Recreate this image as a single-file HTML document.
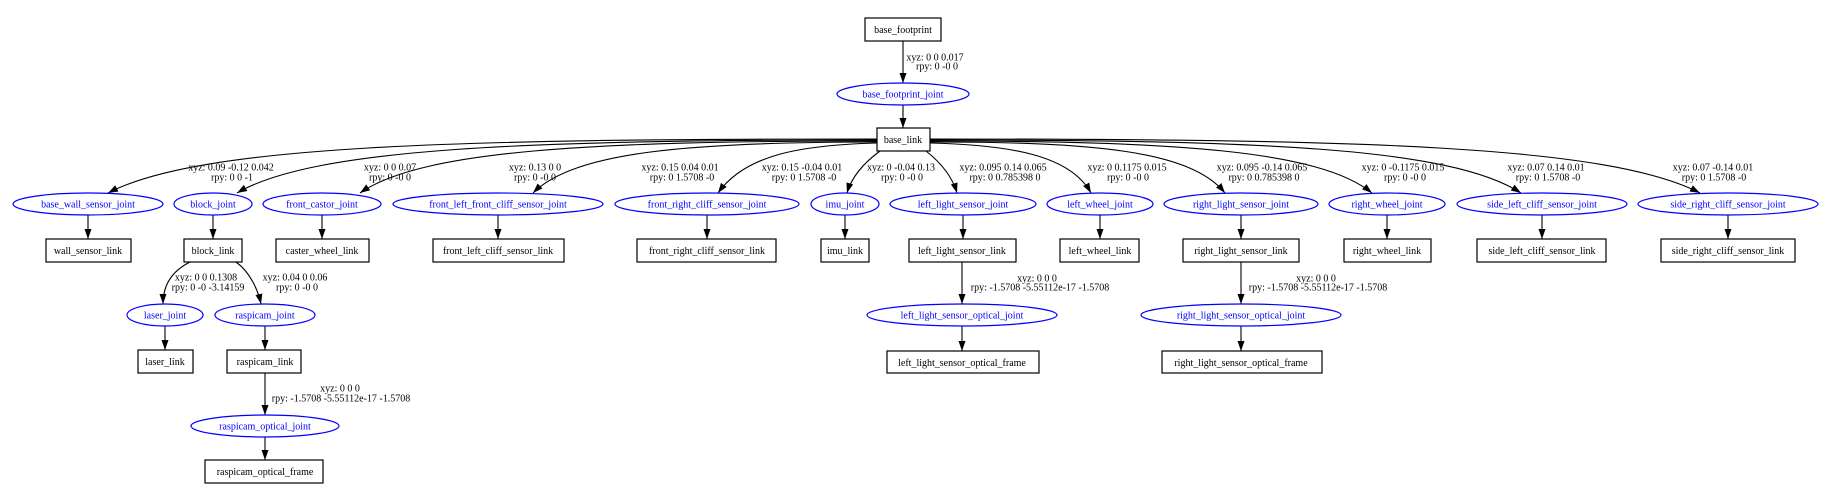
<!DOCTYPE html>
<html><head><meta charset="utf-8"><style>
html,body{margin:0;padding:0;background:#fff;}
svg{display:block;}
text{font-family:"Liberation Serif",serif;font-size:10px;}
.n{fill:#000;text-anchor:middle;}
.j{fill:#0000ff;text-anchor:middle;}
.l{fill:#000;text-anchor:middle;}
rect{fill:#fff;stroke:#000;stroke-width:1.2;}
ellipse{fill:#fff;stroke:#0000ff;stroke-width:1.2;}
path.e{fill:none;stroke:#000;stroke-width:1.1;}
</style></head><body>
<svg width="1834" height="501" viewBox="0 0 1834 501" xmlns="http://www.w3.org/2000/svg">
<defs><marker id="a" markerUnits="userSpaceOnUse" markerWidth="10" markerHeight="8" refX="10" refY="3.5" orient="auto"><path d="M0,0 L10,3.5 L0,7 z" fill="#000"/></marker></defs>

<g class="edges">
<path class="e" marker-end="url(#a)" d="M903,41 L903,83"/>
<path class="e" marker-end="url(#a)" d="M903,105 L903,128"/>
<path class="e" marker-end="url(#a)" d="M877,139 C454,139 200,145 108,193"/>
<path class="e" marker-end="url(#a)" d="M877,140 C525,140 314,148 237,193"/>
<path class="e" marker-end="url(#a)" d="M877,141 C593,141 422,150 360,193"/>
<path class="e" marker-end="url(#a)" d="M877,142 C688,142 574,152 533,193"/>
<path class="e" marker-end="url(#a)" d="M877,143 C800,145 745,155 718,193"/>
<path class="e" marker-end="url(#a)" d="M880,151 C865,162 852,176 847,193"/>
<path class="e" marker-end="url(#a)" d="M926,151 C940,162 952,176 957,193"/>
<path class="e" marker-end="url(#a)" d="M930,143 C1010,145 1070,155 1091,193"/>
<path class="e" marker-end="url(#a)" d="M930,142 C1092,142 1190,150 1225,193"/>
<path class="e" marker-end="url(#a)" d="M930,141 C1173,141 1319,150 1372,193"/>
<path class="e" marker-end="url(#a)" d="M930,140 C1255,140 1450,147 1521,193"/>
<path class="e" marker-end="url(#a)" d="M930,139 C1353,139 1608,145 1700,193"/>
<path class="e" marker-end="url(#a)" d="M88,215 L88,239"/>
<path class="e" marker-end="url(#a)" d="M213,215 L213,239"/>
<path class="e" marker-end="url(#a)" d="M322,215 L322,239"/>
<path class="e" marker-end="url(#a)" d="M498,215 L498,239"/>
<path class="e" marker-end="url(#a)" d="M707,215 L707,239"/>
<path class="e" marker-end="url(#a)" d="M845,215 L845,239"/>
<path class="e" marker-end="url(#a)" d="M963,215 L963,239"/>
<path class="e" marker-end="url(#a)" d="M1100,215 L1100,239"/>
<path class="e" marker-end="url(#a)" d="M1241,215 L1241,239"/>
<path class="e" marker-end="url(#a)" d="M1387,215 L1387,239"/>
<path class="e" marker-end="url(#a)" d="M1542,215 L1542,239"/>
<path class="e" marker-end="url(#a)" d="M1728,215 L1728,239"/>
<path class="e" marker-end="url(#a)" d="M190,262 C170,272 163,287 163,304"/>
<path class="e" marker-end="url(#a)" d="M236,262 C250,272 258,290 261,304"/>
<path class="e" marker-end="url(#a)" d="M165,326 L165,350"/>
<path class="e" marker-end="url(#a)" d="M265,326 L265,350"/>
<path class="e" marker-end="url(#a)" d="M265,373 L265,415"/>
<path class="e" marker-end="url(#a)" d="M265,437 L265,460"/>
<path class="e" marker-end="url(#a)" d="M962,262 L962,304"/>
<path class="e" marker-end="url(#a)" d="M962,326 L962,351"/>
<path class="e" marker-end="url(#a)" d="M1241,262 L1241,304"/>
<path class="e" marker-end="url(#a)" d="M1241,326 L1241,351"/>
</g>

<rect x="865" y="18" width="76" height="23"/><text class="n" x="903" y="33">base_footprint</text>
<rect x="877" y="128" width="53" height="23"/><text class="n" x="903" y="143">base_link</text>
<rect x="46" y="239" width="85" height="23"/><text class="n" x="88" y="254">wall_sensor_link</text>
<rect x="184" y="239" width="58" height="23"/><text class="n" x="213" y="254">block_link</text>
<rect x="276" y="239" width="93" height="23"/><text class="n" x="322" y="254">caster_wheel_link</text>
<rect x="433" y="239" width="131" height="23"/><text class="n" x="498" y="254">front_left_cliff_sensor_link</text>
<rect x="637" y="239" width="139" height="23"/><text class="n" x="707" y="254">front_right_cliff_sensor_link</text>
<rect x="821" y="239" width="48" height="23"/><text class="n" x="845" y="254">imu_link</text>
<rect x="909" y="239" width="107" height="23"/><text class="n" x="962" y="254">left_light_sensor_link</text>
<rect x="1060" y="239" width="79" height="23"/><text class="n" x="1100" y="254">left_wheel_link</text>
<rect x="1183" y="239" width="116" height="23"/><text class="n" x="1241" y="254">right_light_sensor_link</text>
<rect x="1344" y="239" width="87" height="23"/><text class="n" x="1387" y="254">right_wheel_link</text>
<rect x="1477" y="239" width="129" height="23"/><text class="n" x="1542" y="254">side_left_cliff_sensor_link</text>
<rect x="1661" y="239" width="134" height="23"/><text class="n" x="1728" y="254">side_right_cliff_sensor_link</text>
<rect x="138" y="350" width="55" height="23"/><text class="n" x="165" y="365">laser_link</text>
<rect x="227" y="350" width="74" height="23"/><text class="n" x="265" y="365">raspicam_link</text>
<rect x="205" y="460" width="118" height="23"/><text class="n" x="265" y="475">raspicam_optical_frame</text>
<rect x="887" y="351" width="152" height="22"/><text class="n" x="962" y="366">left_light_sensor_optical_frame</text>
<rect x="1162" y="351" width="160" height="22"/><text class="n" x="1241" y="366">right_light_sensor_optical_frame</text>

<ellipse cx="903" cy="94" rx="66" ry="11"/><text class="j" x="903" y="97.5">base_footprint_joint</text>
<ellipse cx="88" cy="204" rx="75" ry="11"/><text class="j" x="88" y="207.5">base_wall_sensor_joint</text>
<ellipse cx="213" cy="204" rx="39" ry="11"/><text class="j" x="213" y="207.5">block_joint</text>
<ellipse cx="322" cy="204" rx="59" ry="11"/><text class="j" x="322" y="207.5">front_castor_joint</text>
<ellipse cx="498" cy="204" rx="105" ry="11"/><text class="j" x="498" y="207.5">front_left_front_cliff_sensor_joint</text>
<ellipse cx="707" cy="204" rx="92" ry="11"/><text class="j" x="707" y="207.5">front_right_cliff_sensor_joint</text>
<ellipse cx="845" cy="204" rx="34" ry="11"/><text class="j" x="845" y="207.5">imu_joint</text>
<ellipse cx="963" cy="204" rx="73" ry="11"/><text class="j" x="963" y="207.5">left_light_sensor_joint</text>
<ellipse cx="1100" cy="204" rx="53" ry="11"/><text class="j" x="1100" y="207.5">left_wheel_joint</text>
<ellipse cx="1241" cy="204" rx="77" ry="11"/><text class="j" x="1241" y="207.5">right_light_sensor_joint</text>
<ellipse cx="1387" cy="204" rx="58" ry="11"/><text class="j" x="1387" y="207.5">right_wheel_joint</text>
<ellipse cx="1542" cy="204" rx="85" ry="11"/><text class="j" x="1542" y="207.5">side_left_cliff_sensor_joint</text>
<ellipse cx="1728" cy="204" rx="90" ry="11"/><text class="j" x="1728" y="207.5">side_right_cliff_sensor_joint</text>
<ellipse cx="165" cy="315" rx="38" ry="11"/><text class="j" x="165" y="318.5">laser_joint</text>
<ellipse cx="265" cy="315" rx="50" ry="11"/><text class="j" x="265" y="318.5">raspicam_joint</text>
<ellipse cx="265" cy="426" rx="74" ry="11"/><text class="j" x="265" y="429.5">raspicam_optical_joint</text>
<ellipse cx="962" cy="315" rx="95" ry="11"/><text class="j" x="962" y="318.5">left_light_sensor_optical_joint</text>
<ellipse cx="1241" cy="315" rx="100" ry="11"/><text class="j" x="1241" y="318.5">right_light_sensor_optical_joint</text>

<text class="l" x="935" y="60.5">xyz: 0 0 0.017</text><text class="l" x="937" y="69.5">rpy: 0 -0 0</text>
<text class="l" x="231" y="170.5">xyz: 0.09 -0.12 0.042</text><text class="l" x="232" y="180.5">rpy: 0 0 -1</text>
<text class="l" x="390" y="170.5">xyz: 0 0 0.07</text><text class="l" x="390" y="180.5">rpy: 0 -0 0</text>
<text class="l" x="535" y="170.5">xyz: 0.13 0 0</text><text class="l" x="535" y="180.5">rpy: 0 -0 0</text>
<text class="l" x="680" y="170.5">xyz: 0.15 0.04 0.01</text><text class="l" x="682" y="180.5">rpy: 0 1.5708 -0</text>
<text class="l" x="802" y="170.5">xyz: 0.15 -0.04 0.01</text><text class="l" x="804" y="180.5">rpy: 0 1.5708 -0</text>
<text class="l" x="901" y="170.5">xyz: 0 -0.04 0.13</text><text class="l" x="902" y="180.5">rpy: 0 -0 0</text>
<text class="l" x="1003" y="170.5">xyz: 0.095 0.14 0.065</text><text class="l" x="1005" y="180.5">rpy: 0 0.785398 0</text>
<text class="l" x="1127" y="170.5">xyz: 0 0.1175 0.015</text><text class="l" x="1128" y="180.5">rpy: 0 -0 0</text>
<text class="l" x="1262" y="170.5">xyz: 0.095 -0.14 0.065</text><text class="l" x="1264" y="180.5">rpy: 0 0.785398 0</text>
<text class="l" x="1403" y="170.5">xyz: 0 -0.1175 0.015</text><text class="l" x="1405" y="180.5">rpy: 0 -0 0</text>
<text class="l" x="1546" y="170.5">xyz: 0.07 0.14 0.01</text><text class="l" x="1548" y="180.5">rpy: 0 1.5708 -0</text>
<text class="l" x="1713" y="170.5">xyz: 0.07 -0.14 0.01</text><text class="l" x="1714" y="180.5">rpy: 0 1.5708 -0</text>
<text class="l" x="206" y="280.5">xyz: 0 0 0.1308</text><text class="l" x="208" y="290.5">rpy: 0 -0 -3.14159</text>
<text class="l" x="295" y="280.5">xyz: 0.04 0 0.06</text><text class="l" x="297" y="290.5">rpy: 0 -0 0</text>
<text class="l" x="340" y="391.5">xyz: 0 0 0</text><text class="l" x="341" y="401.5">rpy: -1.5708 -5.55112e-17 -1.5708</text>
<text class="l" x="1037" y="281.5">xyz: 0 0 0</text><text class="l" x="1040" y="290.5">rpy: -1.5708 -5.55112e-17 -1.5708</text>
<text class="l" x="1316" y="281.5">xyz: 0 0 0</text><text class="l" x="1318" y="290.5">rpy: -1.5708 -5.55112e-17 -1.5708</text>
</svg>
</body></html>
